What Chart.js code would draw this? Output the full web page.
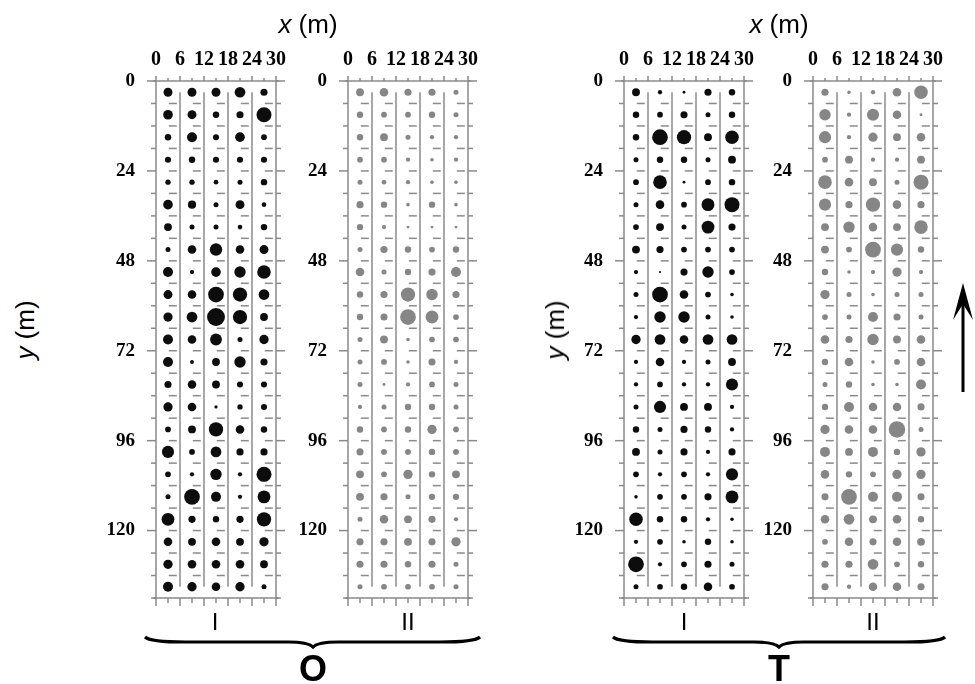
<!DOCTYPE html>
<html>
<head>
<meta charset="utf-8">
<title>Bubble grids O / T</title>
<script src="https://cdn.jsdelivr.net/npm/chart.js@4.4.0/dist/chart.umd.min.js"></script>
<style>
  body { margin:0; background:#fff; width:975px; height:684px; position:relative; overflow:hidden;
         font-family:"Liberation Sans", Arial, sans-serif; }
  canvas { position:absolute; }
  .lbl { position:absolute; color:#000; white-space:nowrap; line-height:1; transform:translateX(-50%); }
  .axt { font-size:26px; }
  .rom { font-size:24px; }
  .grp { font-size:36px; font-weight:bold; }
  .yt { font-size:26px; transform:translate(-50%,-50%) rotate(-90deg); }
  svg { position:absolute; left:0; top:0; }
</style>
</head>
<body>
<canvas id="oI"></canvas>
<canvas id="oII"></canvas>
<canvas id="tI"></canvas>
<canvas id="tII"></canvas>

<div class="lbl axt" style="left:308px;top:11px"><i>x</i> (m)</div>
<div class="lbl axt" style="left:779px;top:11px"><i>x</i> (m)</div>
<div class="lbl yt" style="left:25px;top:330px"><i>y</i> (m)</div>
<div class="lbl yt" style="left:555px;top:330px"><i>y</i> (m)</div>
<div class="lbl rom" style="left:215px;top:610px">I</div>
<div class="lbl rom" style="left:408px;top:610px">II</div>
<div class="lbl rom" style="left:684px;top:610px">I</div>
<div class="lbl rom" style="left:873px;top:610px">II</div>
<div class="lbl grp" style="left:313px;top:651px">O</div>
<div class="lbl grp" style="left:779px;top:651px">T</div>

<svg width="975" height="684">
  <path d="M145,637 Q150,642 185,642 L288,642 Q308,642 313,647 Q318,642 338,642 L440,642 Q475,642 480,637"
        fill="none" stroke="#000" stroke-width="3.2"/>
  <path d="M613,637 Q618,642 653,642 L754,642 Q774,642 779,647 Q784,642 804,642 L905,642 Q940,642 945,637"
        fill="none" stroke="#000" stroke-width="3.2"/>
  <line x1="963" y1="392" x2="963" y2="300" stroke="#000" stroke-width="3"/>
  <path d="M963,283 L973,320 L963,304 L953,320 Z" fill="#000"/>
</svg>

<script>
// column centres (m) and row centres (m)
var xCols = [3, 9, 15, 21, 27];
var yRows = [3, 9, 15, 21, 27, 33, 39, 45, 51, 57, 63, 69, 75, 81, 87, 93, 99, 105, 111, 117, 123, 129, 135];
var xTicks = [0, 6, 12, 18, 24, 30];
var yTicks = [0, 24, 48, 72, 96, 120];

// dot size, one row per y, one value per x column
var oI = [
  [25, 25, 25, 30, 20], [27, 25, 18, 20, 42], [18, 28, 17, 27, 16], [17, 18, 17, 17, 17],
  [15, 15, 13, 14, 18], [27, 23, 14, 25, 13], [22, 14, 14, 13, 18], [14, 24, 35, 24, 25],
  [28, 12, 27, 32, 38], [25, 24, 44, 40, 30], [26, 30, 50, 40, 22], [28, 24, 33, 14, 26],
  [28, 11, 22, 32, 20], [20, 24, 22, 17, 17], [26, 24, 9, 15, 17], [16, 22, 40, 24, 18],
  [34, 16, 30, 20, 20], [16, 12, 32, 12, 42], [14, 44, 28, 12, 36], [36, 20, 18, 20, 40],
  [24, 22, 24, 22, 26], [26, 24, 24, 24, 22], [28, 26, 24, 26, 14]
];
var oII = [
  [22, 24, 20, 20, 14], [18, 16, 16, 18, 14], [18, 22, 14, 12, 12], [16, 16, 12, 10, 12],
  [14, 13, 12, 10, 10], [20, 18, 10, 18, 10], [18, 12, 8, 8, 8], [14, 20, 18, 16, 18],
  [24, 14, 18, 20, 28], [18, 20, 40, 32, 20], [18, 20, 44, 36, 16], [14, 22, 10, 16, 16],
  [14, 16, 10, 20, 12], [14, 8, 12, 16, 14], [12, 14, 18, 18, 14], [18, 16, 18, 26, 16],
  [20, 16, 16, 18, 16], [22, 16, 26, 18, 22], [22, 20, 14, 18, 18], [14, 24, 22, 20, 12],
  [20, 20, 22, 20, 26], [20, 20, 18, 20, 14], [14, 16, 16, 16, 14]
];
var tI = [
  [22, 12, 8, 20, 18], [18, 16, 20, 14, 18], [18, 44, 40, 22, 38], [14, 18, 18, 14, 22],
  [16, 38, 8, 16, 18], [14, 24, 16, 36, 42], [16, 22, 14, 36, 20], [22, 20, 16, 16, 16],
  [12, 6, 20, 32, 16], [14, 44, 24, 16, 10], [12, 32, 32, 14, 10], [26, 30, 24, 30, 30],
  [12, 24, 12, 14, 22], [12, 16, 12, 12, 34], [14, 34, 22, 22, 12], [18, 14, 20, 18, 12],
  [22, 14, 20, 12, 20], [16, 12, 16, 12, 34], [10, 16, 16, 20, 36], [38, 18, 18, 12, 10],
  [12, 16, 10, 18, 10], [44, 12, 16, 20, 14], [14, 16, 18, 24, 16]
];
var tII = [
  [20, 10, 12, 24, 38], [32, 12, 34, 24, 8], [34, 12, 26, 22, 24], [16, 22, 12, 12, 22],
  [38, 24, 22, 14, 42], [34, 20, 40, 24, 20], [22, 32, 24, 22, 38], [22, 16, 44, 34, 18],
  [18, 10, 12, 26, 12], [26, 14, 10, 14, 14], [16, 14, 28, 20, 14], [24, 20, 32, 22, 24],
  [18, 24, 10, 16, 24], [14, 18, 10, 10, 28], [18, 28, 24, 24, 20], [26, 24, 24, 46, 14],
  [28, 22, 28, 18, 26], [24, 18, 16, 26, 26], [20, 44, 28, 28, 20], [24, 30, 22, 24, 18],
  [16, 24, 20, 24, 22], [20, 20, 30, 16, 18], [20, 12, 24, 24, 20]
];

var serif = "'Liberation Serif', 'DejaVu Serif', serif";

// frame, ticks, column separators and the little row dashes
var gridPlugin = {
  id: 'gridPlugin',
  beforeDatasetsDraw: function(chart) {
    var ctx = chart.ctx, xs = chart.scales.x, ys = chart.scales.y;
    var X = function(v) { return xs.getPixelForValue(v); };
    var Y = function(v) { return ys.getPixelForValue(v); };
    function seg(x1, y1, x2, y2) { ctx.beginPath(); ctx.moveTo(x1, y1); ctx.lineTo(x2, y2); ctx.stroke(); }
    var x0 = X(0), x30 = X(30), y0 = Y(0), yEnd = Y(138);
    ctx.save();
    ctx.strokeStyle = '#8a8a8a';
    ctx.lineWidth = 1.5;
    seg(x0, y0, x0, yEnd);
    seg(x30, y0, x30, yEnd);
    seg(x0 - 3, y0, x30 + 3, y0);
    seg(x0 - 3, yEnd, x30 + 3, yEnd);
    for (var v = 0; v <= 30; v += 3) {
      var major = v % 6 === 0;
      seg(X(v), y0, X(v), y0 - (major ? 5 : 3));
      seg(X(v), yEnd, X(v), yEnd + (major ? 8 : 5));
    }
    for (var w = 0; w <= 138; w += 6) {
      var len = w % 24 === 0 ? 9 : 5;
      seg(x0 - len, Y(w), x0, Y(w));
      seg(x30, Y(w), x30 + len, Y(w));
    }
    ctx.strokeStyle = '#999999';
    ctx.lineWidth = 1.7;
    [6, 12, 18, 24].forEach(function(c) { seg(X(c), Y(3), X(c), Y(135)); });
    ctx.strokeStyle = '#8a8a8a';
    ctx.lineWidth = 1.5;
    for (var r = 6; r <= 132; r += 6) {
      xCols.forEach(function(c) { seg(X(c + 0.2), Y(r), X(c + 2.2), Y(r)); });
    }
    ctx.restore();
  }
};

function makePanel(id, rows, colour, frameLeft) {
  var cv = document.getElementById(id);
  cv.width = 200; cv.height = 607;
  cv.style.left = (frameLeft - 60) + 'px';
  cv.style.top = '31px';
  var pts = [];
  rows.forEach(function(row, k) {
    row.forEach(function(v, j) { pts.push({ x: xCols[j], y: yRows[k], r: v / 5.6 }); });
  });
  return new Chart(cv.getContext('2d'), {
    type: 'bubble',
    data: { datasets: [{ data: pts, backgroundColor: colour, borderColor: colour, borderWidth: 0, clip: false }] },
    options: {
      responsive: false,
      animation: false,
      layout: { padding: { top: 0, left: 0, right: 20, bottom: 40 } },
      plugins: { legend: { display: false }, tooltip: { enabled: false } },
      scales: {
        x: {
          type: 'linear', position: 'top', min: 0, max: 30,
          afterBuildTicks: function(s) { s.ticks = xTicks.map(function(v) { return { value: v }; }); },
          afterFit: function(s) { s.height = 50; },
          grid: { display: false }, border: { display: false },
          ticks: { autoSkip: false, maxRotation: 0, padding: 1, color: '#000',
                   font: { family: serif, weight: 'bold', size: 20 } }
        },
        y: {
          type: 'linear', reverse: true, min: 0, max: 138,
          afterBuildTicks: function(s) { s.ticks = yTicks.map(function(v) { return { value: v }; }); },
          afterFit: function(s) { s.width = 60; },
          grid: { display: false }, border: { display: false },
          ticks: { autoSkip: false, padding: 13, color: '#000',
                   font: { family: serif, weight: 'bold', size: 19 } }
        }
      }
    },
    plugins: [gridPlugin]
  });
}

makePanel('oI', oI, '#0d0d0d', 156);
makePanel('oII', oII, '#868686', 348);
makePanel('tI', tI, '#0d0d0d', 624);
makePanel('tII', tII, '#868686', 813);
</script>
</body>
</html>
